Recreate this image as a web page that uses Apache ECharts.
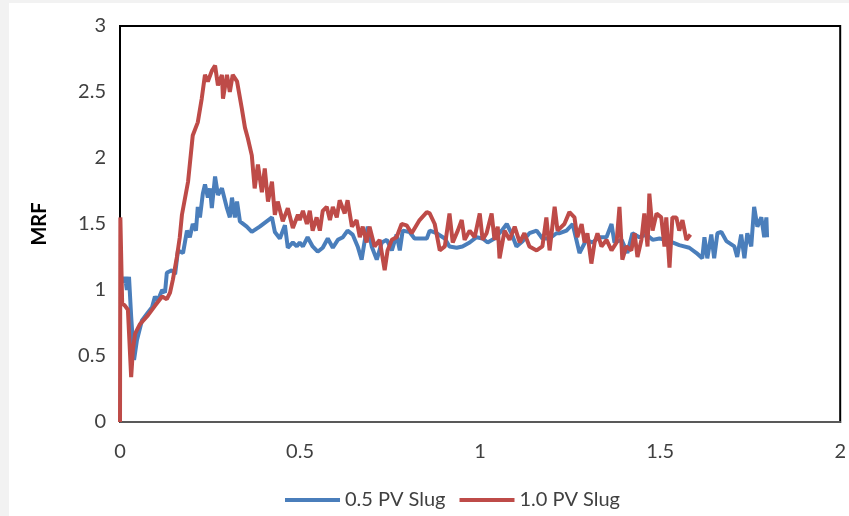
<!DOCTYPE html>
<html>
<head>
<meta charset="utf-8">
<script src="https://cdn.jsdelivr.net/npm/echarts@6/dist/echarts.min.js"></script>
<style>
html,body{margin:0;padding:0;background:#f2f2f2;width:849px;height:516px;overflow:hidden;}
#chart{position:absolute;left:9px;top:3px;width:840px;height:513px;background:#fff;}
</style>
</head>
<body>
<div id="chart"></div>
<script>
const xTicks = ["0", "0.5", "1", "1.5", "2"];
const yTicks = ["0", "0.5", "1", "1.5", "2", "2.5", "3"];
const seriesNames = ["0.5 PV Slug", "1.0 PV Slug"];

const blueX = [0.011,0.014,0.019,0.025,0.031,0.039,0.047,0.061,0.075,0.089,0.097,0.105,0.117,0.125,0.130,0.144,0.153,0.161,0.175,0.186,0.194,0.202,0.211,0.216,0.222,0.230,0.236,0.244,0.250,0.255,0.264,0.272,0.283,0.297,0.305,0.311,0.319,0.325,0.333,0.352,0.366,0.388,0.422,0.430,0.444,0.458,0.466,0.480,0.491,0.499,0.508,0.521,0.535,0.549,0.563,0.577,0.591,0.605,0.619,0.632,0.646,0.660,0.671,0.680,0.688,0.699,0.713,0.727,0.741,0.755,0.768,0.777,0.785,0.804,0.818,0.852,0.860,0.879,0.902,0.915,0.935,0.951,0.971,0.990,1.007,1.021,1.040,1.060,1.074,1.087,1.101,1.118,1.137,1.157,1.173,1.193,1.212,1.221,1.240,1.257,1.276,1.295,1.312,1.331,1.351,1.365,1.373,1.393,1.409,1.423,1.442,1.462,1.479,1.498,1.517,1.534,1.553,1.581,1.601,1.617,1.623,1.631,1.642,1.650,1.659,1.670,1.684,1.706,1.714,1.725,1.734,1.742,1.753,1.761,1.770,1.781,1.789,1.795,1.797];
const blueY = [1.05,1.10,1.00,1.10,0.80,0.47,0.62,0.77,0.82,0.87,0.95,0.92,1.00,0.98,1.13,1.15,1.12,1.30,1.28,1.45,1.40,1.50,1.45,1.63,1.55,1.73,1.80,1.70,1.77,1.62,1.86,1.72,1.77,1.62,1.55,1.70,1.55,1.67,1.52,1.48,1.44,1.48,1.55,1.44,1.39,1.49,1.32,1.36,1.33,1.36,1.33,1.40,1.33,1.29,1.32,1.39,1.32,1.38,1.40,1.45,1.42,1.33,1.23,1.38,1.48,1.33,1.23,1.36,1.38,1.30,1.42,1.30,1.45,1.44,1.39,1.39,1.45,1.43,1.39,1.33,1.32,1.33,1.36,1.40,1.39,1.36,1.39,1.45,1.50,1.43,1.33,1.37,1.43,1.45,1.39,1.39,1.43,1.43,1.45,1.50,1.28,1.38,1.36,1.40,1.40,1.50,1.36,1.38,1.28,1.43,1.40,1.42,1.38,1.39,1.38,1.36,1.34,1.32,1.28,1.24,1.40,1.24,1.42,1.24,1.43,1.44,1.37,1.33,1.25,1.42,1.24,1.43,1.33,1.63,1.48,1.55,1.40,1.55,1.40];

const redX = [0.000,0.001,0.006,0.014,0.022,0.031,0.036,0.042,0.055,0.078,0.097,0.117,0.130,0.139,0.147,0.158,0.166,0.172,0.189,0.202,0.216,0.227,0.236,0.244,0.255,0.264,0.272,0.283,0.286,0.297,0.305,0.313,0.325,0.338,0.347,0.355,0.366,0.374,0.383,0.394,0.402,0.411,0.422,0.430,0.438,0.452,0.466,0.480,0.494,0.499,0.508,0.519,0.527,0.535,0.546,0.555,0.563,0.574,0.583,0.591,0.602,0.610,0.624,0.632,0.644,0.657,0.666,0.674,0.685,0.693,0.707,0.721,0.735,0.743,0.755,0.768,0.782,0.796,0.810,0.832,0.852,0.860,0.874,0.888,0.902,0.915,0.924,0.938,0.949,0.957,0.971,0.985,0.999,1.007,1.018,1.032,1.040,1.049,1.054,1.068,1.082,1.096,1.110,1.123,1.137,1.157,1.173,1.184,1.193,1.207,1.215,1.234,1.248,1.262,1.270,1.282,1.290,1.298,1.309,1.318,1.326,1.337,1.351,1.365,1.379,1.387,1.395,1.406,1.420,1.429,1.437,1.448,1.456,1.465,1.470,1.479,1.490,1.503,1.512,1.517,1.526,1.534,1.545,1.553,1.562,1.573,1.584];
const redY = [0,1.55,0.90,0.88,0.85,0.34,0.55,0.67,0.74,0.81,0.88,0.95,0.93,0.98,1.08,1.25,1.40,1.57,1.82,2.17,2.27,2.45,2.63,2.58,2.66,2.70,2.55,2.63,2.45,2.63,2.50,2.63,2.58,2.38,2.23,2.15,2.02,1.77,1.95,1.74,1.92,1.67,1.82,1.57,1.67,1.52,1.62,1.47,1.57,1.53,1.60,1.50,1.60,1.45,1.55,1.45,1.60,1.63,1.53,1.63,1.55,1.68,1.58,1.68,1.48,1.53,1.40,1.48,1.36,1.48,1.33,1.38,1.15,1.30,1.38,1.40,1.50,1.49,1.43,1.53,1.59,1.58,1.50,1.30,1.33,1.58,1.36,1.45,1.53,1.38,1.45,1.40,1.58,1.38,1.43,1.58,1.38,1.48,1.24,1.45,1.38,1.48,1.36,1.43,1.33,1.30,1.33,1.55,1.30,1.63,1.45,1.50,1.59,1.55,1.40,1.50,1.36,1.43,1.20,1.36,1.43,1.33,1.38,1.30,1.36,1.63,1.23,1.33,1.30,1.43,1.25,1.38,1.58,1.33,1.73,1.45,1.58,1.55,1.33,1.55,1.17,1.55,1.55,1.45,1.53,1.38,1.42];

const pairs = (xs, ys) => xs.map((x, i) => [x, ys[i]]);
const FONT = 'Lato, "Open Sans", sans-serif';

const chart = echarts.init(document.getElementById('chart'));
chart.setOption({
  animation: false,
  backgroundColor: '#fff',
  grid: { left: 111, right: 8, top: 23, bottom: 94, show: true, borderColor: '#000', borderWidth: 2, backgroundColor: 'transparent' },
  legend: {
    top: 482, left: 271,
    data: seriesNames,
    icon: 'rect', itemWidth: 55, itemHeight: 4, itemGap: 14,
    textStyle: { fontFamily: FONT, fontSize: 20, color: '#404040' }
  },
  xAxis: {
    type: 'value', min: 0, max: 2, interval: 0.5,
    axisLine: { show: true, lineStyle: { color: '#595959', width: 2 } },
    axisTick: { show: false },
    splitLine: { show: false },
    axisLabel: { margin: 20, fontFamily: FONT, fontSize: 20, color: '#404040',
      formatter: (v) => xTicks[Math.round(v / 0.5)] }
  },
  yAxis: {
    type: 'value', min: 0, max: 3, interval: 0.5,
    name: 'MRF', nameLocation: 'middle', nameGap: 70,
    nameTextStyle: { fontFamily: FONT, fontSize: 20, fontWeight: 'bold', color: '#000' },
    axisLine: { show: true, lineStyle: { color: '#000', width: 2 } },
    axisTick: { show: false },
    splitLine: { show: false },
    axisLabel: { margin: 14, fontFamily: FONT, fontSize: 20, color: '#404040',
      formatter: (v) => yTicks[Math.round(v / 0.5)] }
  },
  series: [
    { name: seriesNames[0], type: 'line', data: pairs(blueX, blueY), showSymbol: false,
      lineStyle: { color: '#4a7ebb', width: 4 }, itemStyle: { color: '#4a7ebb' } },
    { name: seriesNames[1], type: 'line', data: pairs(redX, redY), showSymbol: false,
      lineStyle: { color: '#be4b48', width: 4 }, itemStyle: { color: '#be4b48' } }
  ]
});
</script>
</body>
</html>
